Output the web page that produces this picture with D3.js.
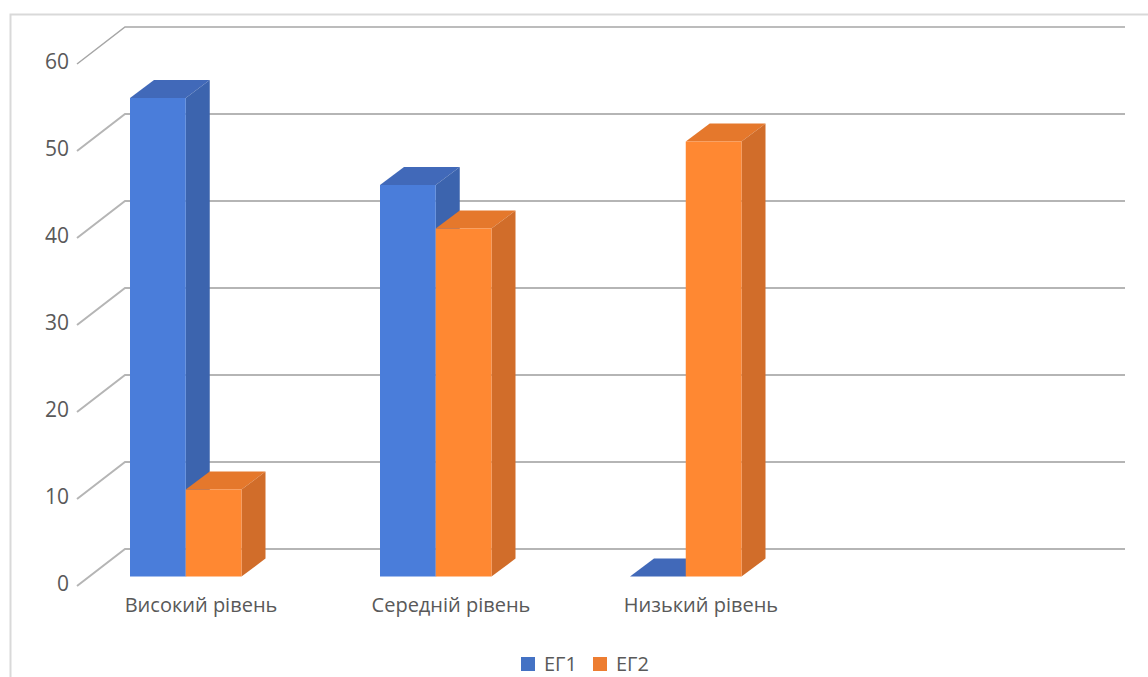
<!DOCTYPE html>
<html>
<head>
<meta charset="utf-8">
<script src="https://cdn.jsdelivr.net/npm/d3@7/dist/d3.min.js"></script>
<style>
html,body{margin:0;padding:0;background:#fff;overflow:hidden}
svg{display:block}
text{font-family:"Open Sans",sans-serif;fill:#595959}
</style>
</head>
<body>
<svg id="chart" width="1148" height="677"></svg>
<script>
// Chart values
const categories = ["Високий рівень", "Середній рівень", "Низький рівень", ""];
const seriesNames = ["ЕГ1", "ЕГ2"];
const eg1 = [55, 45, 0];
const eg2 = [10, 40, 50];
const yTicks = [0, 10, 20, 30, 40, 50, 60];

const colors = {
  "ЕГ1": {front: "#4a7dda", side: "#3c64ae", top: "#4169b9", key: "#4472c4"},
  "ЕГ2": {front: "#ff8832", side: "#d16d2a", top: "#e5782c", key: "#ed7d31"}
};

const svg = d3.select("#chart");

// Outer chart frame, open towards the right and bottom edges
svg.append("path")
  .attr("d", "M10.5,677V14.5H1148")
  .attr("fill", "none").attr("stroke", "#d9d9d9").attr("stroke-width", 2);

// Back wall scale; the oblique projection offsets everything else from it
const y = d3.scaleLinear().domain([0, 60]).range([549, 27]);
const x = d3.scaleBand().domain(categories).range([80, 1080]);
const series = d3.scaleBand().domain(seriesNames).range([50, 161.5]);

const wallDx = 48, wallDy = 37;      // side wall depth
const barDx = 24, barDy = 18;        // bar depth
const floorFront = y(0) + 27.5;      // front baseline of the bars
const backRight = 1125, backLeft = 125;

// Gridlines: slanted segment on the side wall, then across the back wall
const grid = svg.append("g").attr("fill", "none");
grid.selectAll("path").data(yTicks).join("path")
  .attr("d", v => `M${backLeft - wallDx},${y(v) + wallDy}L${backLeft},${y(v)}H${backRight}`)
  .attr("stroke", v => v === 60 ? "#a6a6a6" : "#b5b5b5")
  .attr("stroke-width", v => v === 60 ? 1.5 : 2);

// Value labels on the side wall
const yAxis = d3.axisLeft(y).tickValues(yTicks).tickSize(0).tickPadding(0);
const yAxisG = svg.append("g")
  .attr("transform", `translate(69,${wallDy - 2})`)
  .call(yAxis);
yAxisG.select(".domain").remove();
yAxisG.selectAll("text")
  .style("font-family", '"Open Sans",sans-serif')
  .style("font-size", "21px")
  .attr("fill", "#595959");

// Bars as three faces: front, right side, top
const bars = seriesNames.flatMap((name, si) =>
  (si === 0 ? eg1 : eg2).map((value, ci) => ({name, value, ci})));
const h = v => y(0) - y(v);
const g = svg.append("g");
bars.sort((a, b) => a.ci - b.ci || d3.ascending(a.name, b.name)).forEach(d => {
  const x0 = x(categories[d.ci]) + series(d.name);
  const w = series.bandwidth();
  const top = floorFront - h(d.value);
  const c = colors[d.name];
  const node = g.append("g").attr("class", "bar");
  node.append("path")
    .attr("d", `M${x0},${top}l${barDx},${-barDy}h${w}l${-barDx},${barDy}Z`)
    .attr("fill", c.top);
  if (d.value > 0) {
    node.append("path")
      .attr("d", `M${x0 + w},${top}l${barDx},${-barDy}V${floorFront - barDy}l${-barDx},${barDy}Z`)
      .attr("fill", c.side);
    node.append("rect")
      .attr("x", x0).attr("y", top).attr("width", w).attr("height", h(d.value))
      .attr("fill", c.front);
  }
});

// Category labels
svg.append("g").selectAll("text").data(categories.filter(c => c)).join("text")
  .attr("x", c => x(c) + 121)
  .attr("y", 612)
  .attr("text-anchor", "middle")
  .attr("font-size", 20)
  .text(c => c);

// Legend
const legend = svg.append("g").selectAll("g").data(seriesNames).join("g")
  .attr("transform", (d, i) => `translate(${521 + i * 72},657)`);
legend.append("rect").attr("width", 14).attr("height", 14).attr("fill", d => colors[d].key);
legend.append("text").attr("x", 23).attr("y", 14).attr("font-size", 20).text(d => d);
</script>
</body>
</html>
